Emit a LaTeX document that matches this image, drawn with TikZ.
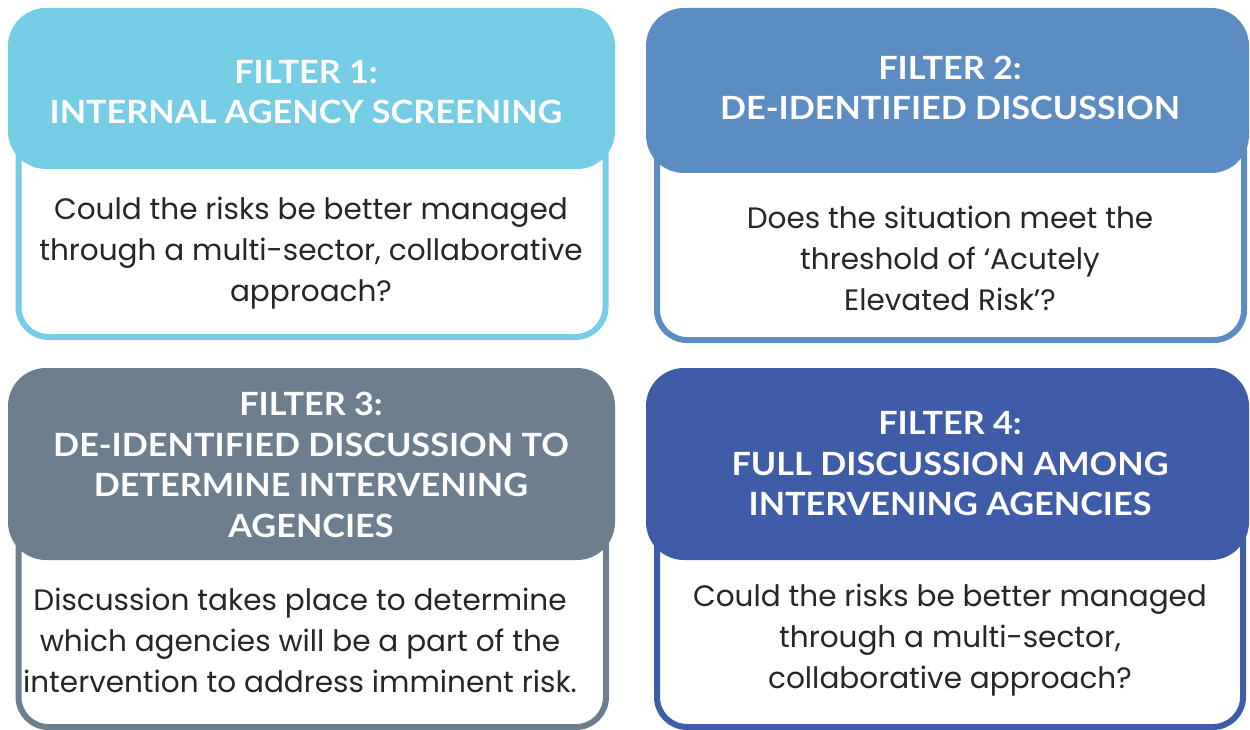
\documentclass[tikz,border=0pt]{standalone}
\usepackage{fontspec}
\setmainfont{Poppins}
\newfontfamily\hdrfont{Lato}[BoldFont={Lato Bold},BoldFeatures={FakeStretch=1.07}]
\definecolor{cA}{HTML}{76CDE6}
\definecolor{cB}{HTML}{5B8CC2}
\definecolor{cC}{HTML}{6D7E8F}
\definecolor{cD}{HTML}{3F5CA8}
\definecolor{txt}{HTML}{262626}
\begin{document}
\begin{tikzpicture}[x=1pt,y=-1pt,
  hdrbox/.style={draw=none,rounded corners=38pt,inner sep=0pt},
  hdrtext/.style={text=white,align=center,font=\hdrfont\bfseries\fontsize{32}{40.5}\selectfont,inner sep=0pt},
  bodytext/.style={text=txt,align=center,font=\fontsize{29.5}{41}\selectfont,inner sep=0pt},
  bodybox/.style={line width=6pt,fill=white,rounded corners=30pt}]
\useasboundingbox (0,0) rectangle (1250,730);
% bodies
\draw[bodybox,draw=cA] (18.5,100) -- (18.5,337) -- (605.5,337) -- (605.5,100);
\draw[bodybox,draw=cB] (657,100) -- (657,340) -- (1244,340) -- (1244,100);
\draw[bodybox,draw=cC] (18.5,450) -- (18.5,727) -- (606,727) -- (606,450);
\draw[bodybox,draw=cD] (657,450) -- (657,727) -- (1243,727) -- (1243,450);
% headers
\fill[hdrbox,cA] (8,8) rectangle (615,169);
\fill[hdrbox,cB] (646,8) rectangle (1249,173);
\fill[hdrbox,cC] (8,368) rectangle (615,560);
\fill[hdrbox,cD] (646,368) rectangle (1249,560);
% header texts
\node[hdrtext] (h1) at (306,92) {FILTER 1:\\INTERNAL AGENCY SCREENING};
\node[hdrtext] (h2) at (950,88) {FILTER 2:\\DE-IDENTIFIED DISCUSSION};
\node[hdrtext] (h3) at (311,465) {FILTER 3:\\DE-IDENTIFIED DISCUSSION TO\\DETERMINE INTERVENING\\AGENCIES};
\node[hdrtext] (h4) at (950,464) {FILTER 4:\\FULL DISCUSSION AMONG\\INTERVENING AGENCIES};
% body texts
\node[bodytext] (b1) at (311,253) {Could the risks be better managed\\through a multi-sector, collaborative\\approach?};
\node[bodytext] (b2) at (950,258) {Does the situation meet the\\threshold of ‘Acutely\\Elevated Risk’?};
\node[bodytext] (b3) at (300,640) {Discussion takes place to determine\\which agencies will be a part of the\\intervention to address imminent risk.};
\node[bodytext] (b4) at (950,640) {Could the risks be better managed\\through a multi-sector,\\collaborative approach?};
\end{tikzpicture}
\end{document}
